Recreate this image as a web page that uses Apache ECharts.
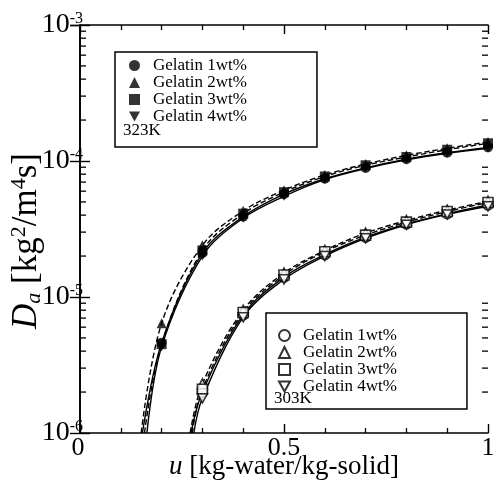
<!DOCTYPE html>
<html>
<head>
<meta charset="utf-8">
<script src="https://cdn.jsdelivr.net/npm/echarts@6/dist/echarts.min.js"></script>
<style>
html, body { margin: 0; padding: 0; background: #fff; }
#chart { width: 494px; height: 485px; }
</style>
</head>
<body>
<div id="chart"></div>
<script>
// 323K - измеренные точки (заполненные маркеры)
const uMarks323 = [0.2, 0.3, 0.4, 0.5, 0.6, 0.7, 0.8, 0.9, 1.0];
const gel1_323 = [4.6e-6, 2.1e-5, 3.9e-5, 5.7e-5, 7.4e-5, 8.9e-5, 1.03e-4, 1.15e-4, 1.26e-4];
const gel2_323 = [6.4e-6, 2.4e-5, 4.3e-5, 6.1e-5, 7.9e-5, 9.5e-5, 1.10e-4, 1.24e-4, 1.38e-4];
const gel3_323 = [4.5e-6, 2.2e-5, 4.1e-5, 5.9e-5, 7.7e-5, 9.3e-5, 1.07e-4, 1.21e-4, 1.35e-4];
const gel4_323 = [4.3e-6, 2.0e-5, 3.8e-5, 5.5e-5, 7.3e-5, 8.8e-5, 1.02e-4, 1.14e-4, 1.24e-4];
const uFoot323 = [0.153, 0.150, 0.158, 0.164]; // где кривые уходят в 1e-6

// 303K - открытые маркеры
const uMarks303 = [0.3, 0.4, 0.5, 0.6, 0.7, 0.8, 0.9, 1.0];
const gel1_303 = [2.0e-6, 7.4e-6, 1.40e-5, 2.05e-5, 2.75e-5, 3.45e-5, 4.10e-5, 4.75e-5];
const gel2_303 = [2.3e-6, 8.0e-6, 1.50e-5, 2.20e-5, 2.95e-5, 3.65e-5, 4.35e-5, 5.05e-5];
const gel3_303 = [2.1e-6, 7.7e-6, 1.45e-5, 2.15e-5, 2.85e-5, 3.55e-5, 4.25e-5, 4.95e-5];
const gel4_303 = [1.8e-6, 7.1e-6, 1.35e-5, 2.00e-5, 2.70e-5, 3.40e-5, 4.05e-5, 4.65e-5];
const uFoot303 = [0.272, 0.270, 0.275, 0.279];

const gelNames = ['Gelatin 1wt%', 'Gelatin 2wt%', 'Gelatin 3wt%', 'Gelatin 4wt%'];
const lineTypes = ['solid', 'dashed', 'dashed', 'solid'];
const yMin = 1e-6, yMax = 1e-3;

const FONT = '"Liberation Serif", "DejaVu Serif", serif';
const invTri = 'path://M0,0L10,0L5,9Z';
const symbols = ['circle', 'triangle', 'rect', invTri];

const groups = [
    { tag: '323', u: uMarks323, vals: [gel1_323, gel2_323, gel3_323, gel4_323], foot: uFoot323, open: false },
    { tag: '303', u: uMarks303, vals: [gel1_303, gel2_303, gel3_303, gel4_303], foot: uFoot303, open: true }
];

// малые деления лог-оси: 2..9 в каждой декаде
const minorVals = [];
for (let e = -6; e < -3; e++) {
    for (let m = 2; m <= 9; m++) minorVals.push(m * Math.pow(10, e));
}

const series = [];
groups.forEach(g => {
    g.vals.forEach((vals, i) => {
        const pts = g.u.map((u, k) => [u, vals[k]]);
        series.push({
            name: 'curve' + i + '|' + g.tag,
            type: 'line',
            smooth: 0.35,
            showSymbol: false,
            silent: true,
            lineStyle: { color: '#000', width: 1.4, type: lineTypes[i] },
            data: [[g.foot[i], yMin]].concat(pts),
            z: 2
        });
        series.push({
            name: gelNames[i] + '|' + g.tag,
            type: 'scatter',
            symbol: symbols[i],
            symbolSize: i === 3 ? [10, 9] : 10,
            itemStyle: g.open
                ? { color: '#fff', borderColor: '#000', borderWidth: 1.6 }
                : { color: '#000', borderColor: '#000', borderWidth: 0 },
            data: pts,
            z: 3
        });
    });
});

// малые деления на левой и правой осях
series.push({
    type: 'custom',
    silent: true,
    clip: false,
    renderItem: function (params, api) {
        const v = api.value(1);
        const l = api.coord([0, v]);
        const r = api.coord([1, v]);
        const st = { stroke: '#000', lineWidth: 1.3 };
        return {
            type: 'group',
            children: [
                { type: 'line', shape: { x1: l[0], y1: l[1], x2: l[0] + 6, y2: l[1] }, style: st },
                { type: 'line', shape: { x1: r[0], y1: r[1], x2: r[0] - 6, y2: r[1] }, style: st }
            ]
        };
    },
    data: minorVals.map(v => [0, v]),
    z: 1
});

function legendFor(tag, left, top, pad) {
    return {
        data: gelNames.map(n => n + '|' + tag),
        left: left,
        top: top,
        orient: 'vertical',
        selectedMode: false,
        itemWidth: 11,
        itemHeight: 11,
        itemGap: 0,
        padding: pad,
        borderColor: '#000',
        borderWidth: 1.5,
        borderRadius: 0,
        formatter: n => '{t|' + n.split('|')[0] + '}',
        textStyle: {
            color: '#000',
            fontFamily: FONT,
            fontSize: 17,
            lineHeight: 17,
            rich: { t: { fontFamily: FONT, fontSize: 17, lineHeight: 17, padding: [0, 0, 0, 8], color: '#000' } }
        }
    };
}

const axisLineStyle = { color: '#000', width: 1.6 };

const option = {
    animation: false,
    backgroundColor: '#fff',
    grid: { left: 80, right: 6, top: 25, bottom: 52, containLabel: false, outerBoundsMode: 'none' },
    legend: [
        legendFor('323', 115, 52, [5, 70, 22, 14]),
        legendFor('303', 266, 313, [14, 70, 14, 12])
    ],
    graphic: [
        { type: 'text', left: 123, top: 122, style: { text: '323K', fontFamily: FONT, fontSize: 17, fill: '#000' } },
        { type: 'text', left: 274, top: 390, style: { text: '303K', fontFamily: FONT, fontSize: 17, fill: '#000' } }
    ],
    xAxis: [
        {
            type: 'value',
            min: 0, max: 1, interval: 0.5,
            name: '{i|u} [kg-water/kg-solid]',
            nameLocation: 'middle',
            nameGap: 20,
            nameMoveOverlap: false,
            nameTextStyle: {
                color: '#000', fontFamily: FONT, fontSize: 27,
                rich: { i: { fontFamily: FONT, fontStyle: 'italic', fontSize: 27, color: '#000' } }
            },
            axisLine: { lineStyle: axisLineStyle },
            axisTick: { inside: true, length: 9, lineStyle: { color: '#000', width: 1.4 } },
            minorTick: { show: true, splitNumber: 5, length: 5, lineStyle: { color: '#000', width: 1.3 } },
            axisLabel: {
                color: '#000', fontFamily: FONT, fontSize: 26, margin: 2,
                formatter: v => v === 0 ? '{z|0}' : String(v),
                rich: { z: { fontFamily: FONT, fontSize: 26, color: '#000', padding: [0, 4, 0, 0] } }
            },
            splitLine: { show: false }
        },
        {
            type: 'value',
            position: 'top',
            min: 0, max: 1, interval: 0.5,
            axisLine: { lineStyle: axisLineStyle },
            axisTick: { inside: true, length: 9, lineStyle: { color: '#000', width: 1.4 } },
            minorTick: { show: true, splitNumber: 5, length: 5, lineStyle: { color: '#000', width: 1.3 } },
            axisLabel: { show: false },
            splitLine: { show: false }
        }
    ],
    yAxis: [
        {
            type: 'log',
            logBase: 10,
            min: yMin, max: yMax,
            name: '{i|D}{sub|a} [kg{sup|2}/m{sup|4}s]',
            nameLocation: 'middle',
            nameGap: 34,
            nameMoveOverlap: false,
            nameTextStyle: {
                color: '#000', fontFamily: FONT, fontSize: 35,
                padding: [0, 24, 0, 0],
                rich: {
                    i: { fontFamily: FONT, fontStyle: 'italic', fontSize: 35, color: '#000' },
                    sub: { fontFamily: FONT, fontStyle: 'italic', fontSize: 22, color: '#000', padding: [14, 0, 0, 0] },
                    sup: { fontFamily: FONT, fontSize: 22, color: '#000', padding: [0, 0, 16, 0] }
                }
            },
            axisLine: { lineStyle: axisLineStyle },
            axisTick: { inside: true, length: 10, lineStyle: { color: '#000', width: 1.4 } },
            axisLabel: {
                color: '#000', fontFamily: FONT, fontSize: 26, margin: -3,
                formatter: v => '{b|10}{s|-' + Math.abs(Math.round(Math.log10(v))) + '}',
                rich: {
                    b: { fontFamily: FONT, fontSize: 28, color: '#000' },
                    s: { fontFamily: FONT, fontSize: 16, color: '#000', padding: [0, 0, 12, 0] }
                }
            },
            splitLine: { show: false }
        },
        {
            type: 'log',
            logBase: 10,
            position: 'right',
            min: yMin, max: yMax,
            axisLine: { lineStyle: axisLineStyle },
            axisTick: { inside: true, length: 10, lineStyle: { color: '#000', width: 1.4 } },
            axisLabel: { show: false },
            splitLine: { show: false }
        }
    ],
    series: series
};

const myChart = echarts.init(document.getElementById('chart'), null, { renderer: 'canvas' });
myChart.setOption(option);
</script>
</body>
</html>
